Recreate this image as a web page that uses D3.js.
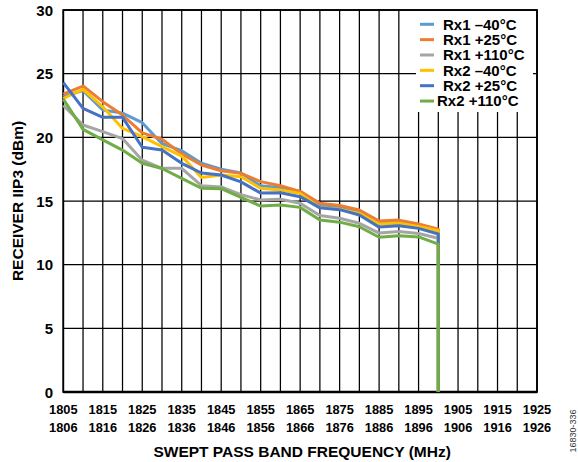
<!DOCTYPE html>
<html>
<head>
<meta charset="utf-8">
<script src="https://cdn.jsdelivr.net/npm/d3@7"></script>
<style>
  html, body { margin: 0; padding: 0; background: #fff; }
  svg { display: block; font-family: "Liberation Sans", Arial, sans-serif; }
</style>
</head>
<body>
<svg id="chart" width="578" height="462"></svg>
<script>
// ---- data ----
const freqs = [1805, 1810, 1815, 1820, 1825, 1830, 1835, 1840, 1845, 1850,
               1855, 1860, 1865, 1870, 1875, 1880, 1885, 1890, 1895, 1900, 1900];
const seriesNames = ["Rx1 \u201340°C", "Rx1 +25°C", "Rx1 +110°C", "Rx2 \u201340°C", "Rx2 +25°C", "Rx2 +110°C"];
const rx1m40  = [23.2, 23.67, 22.15, 21.9, 21.15, 19.5, 18.95, 17.96, 17.49, 17.2, 16.2, 16.05, 15.75, 14.65, 14.5, 14.16, 13.3, 13.3, 13.04, 12.7, 0];
const rx1p25  = [23.4, 24.03, 22.8, 21.75, 20.35, 19.85, 18.7, 17.83, 17.38, 17.17, 16.52, 16.2, 15.76, 14.82, 14.64, 14.29, 13.43, 13.5, 13.19, 12.78, 0];
const rx1p110 = [22.5, 20.97, 20.45, 19.9, 18.2, 17.57, 17.57, 16.2, 16.1, 15.5, 15.08, 15.13, 14.82, 13.86, 13.64, 13.25, 12.48, 12.6, 12.45, 12.07, 0];
const rx2m40  = [23.05, 23.77, 22.4, 20.7, 20.05, 19.27, 18.53, 16.85, 17.05, 16.9, 16.0, 15.86, 15.6, 14.48, 14.35, 14.03, 13.19, 13.25, 13.0, 12.67, 0];
const rx2p25  = [24.3, 22.28, 21.57, 21.57, 19.22, 19.0, 17.96, 17.2, 17.04, 16.5, 15.62, 15.65, 15.34, 14.46, 14.32, 13.9, 12.95, 13.05, 12.85, 12.41, 0];
const rx2p110 = [23.0, 20.63, 19.8, 19.0, 17.96, 17.55, 16.78, 16.0, 15.97, 15.29, 14.6, 14.68, 14.5, 13.5, 13.34, 12.98, 12.15, 12.28, 12.18, 11.62, 0];
const seriesValues = [rx1m40, rx1p25, rx1p110, rx2m40, rx2p25, rx2p110];
const seriesColors = ["#5B9BD5", "#ED7D31", "#A5A5A5", "#FFC000", "#4472C4", "#70AD47"];
const yTicks = [0, 5, 10, 15, 20, 25, 30];
const xTickTop = [1805, 1815, 1825, 1835, 1845, 1855, 1865, 1875, 1885, 1895, 1905, 1915, 1925];
const xTickBottom = [1806, 1816, 1826, 1836, 1846, 1856, 1866, 1876, 1886, 1896, 1906, 1916, 1926];
const xGrid = d3.range(1805, 1926, 5);

// ---- layout ----
const L = 63.3, R = 537, T = 10, B = 392;
const svg = d3.select("#chart");
const x = d3.scaleLinear().domain([1805, 1925]).range([L, R]);
const y = d3.scaleLinear().domain([0, 30]).range([B, T]);

// grid
const grid = svg.append("g");
grid.selectAll("line.v").data(xGrid).join("line")
  .attr("x1", d => x(d)).attr("x2", d => x(d))
  .attr("y1", T).attr("y2", B)
  .attr("stroke", "#000").attr("stroke-width", 1.25);
grid.selectAll("line.h").data(yTicks).join("line")
  .attr("x1", L).attr("x2", R)
  .attr("y1", d => y(d)).attr("y2", d => y(d))
  .attr("stroke", "#000").attr("stroke-width", 1.25);

// border
svg.append("rect").attr("x", L).attr("y", T).attr("width", R - L).attr("height", B - T)
  .attr("fill", "none").attr("stroke", "#000").attr("stroke-width", 1.8);
svg.append("line").attr("x1", L).attr("x2", R).attr("y1", B).attr("y2", B)
  .attr("stroke", "#000").attr("stroke-width", 2.4);

// legend background (hides grid)
const legX = 416, legY = 11;
svg.append("rect").attr("x", legX).attr("y", legY).attr("width", 117).attr("height", 101)
  .attr("fill", "#fff");

// series
const line = d3.line().x((d, i) => x(freqs[i])).y(d => y(d));
svg.append("g").selectAll("path").data(seriesValues).join("path")
  .attr("d", d => line(d))
  .attr("fill", "none")
  .attr("stroke", (d, i) => seriesColors[i])
  .attr("stroke-width", 3)
  .attr("stroke-linejoin", "round");

// y axis labels
svg.append("g").selectAll("text").data(yTicks).join("text")
  .attr("x", 53).attr("y", d => y(d) + 5.5)
  .attr("text-anchor", "end")
  .attr("font-size", "15px").attr("font-weight", "bold")
  .text(d => d);

// x axis labels
const xl = svg.append("g");
xl.selectAll("text.a").data(xTickTop).join("text")
  .attr("x", d => x(d)).attr("y", 413.5)
  .attr("text-anchor", "middle")
  .attr("font-size", "12.8px").attr("font-weight", "bold")
  .text(d => d);
xl.selectAll("text.b").data(xTickBottom).join("text")
  .attr("x", (d, i) => x(xTickTop[i])).attr("y", 431.5)
  .attr("text-anchor", "middle")
  .attr("font-size", "12.8px").attr("font-weight", "bold")
  .text(d => d);

// axis titles
svg.append("text").attr("x", (L + R) / 2 + 2).attr("y", 457)
  .attr("text-anchor", "middle").attr("font-size", "15.5px").attr("font-weight", "bold")
  .text("SWEPT PASS BAND FREQUENCY (MHz)");
svg.append("text").attr("transform", `translate(22.5, ${(T + B) / 2}) rotate(-90)`)
  .attr("text-anchor", "middle").attr("font-size", "15.5px").attr("font-weight", "bold")
  .text("RECEIVER IIP3 (dBm)");

// figure code
svg.append("text").attr("transform", "translate(576, 431) rotate(-90)")
  .attr("text-anchor", "middle").attr("font-size", "9px").attr("fill", "#333")
  .text("16830-336");

// legend
const leg = svg.append("g");
const rowY = i => 24.3 + i * 15.35;
leg.selectAll("line").data(seriesNames).join("line")
  .attr("x1", 420).attr("x2", 434)
  .attr("y1", (d, i) => rowY(i)).attr("y2", (d, i) => rowY(i))
  .attr("stroke", (d, i) => seriesColors[i]).attr("stroke-width", 3);
leg.selectAll("text").data(seriesNames).join("text")
  .attr("x", (d, i) => i === 5 ? 437 : 443)
  .attr("y", (d, i) => rowY(i) + 5.2)
  .attr("font-size", "15px").attr("font-weight", "bold")
  .text(d => d);
</script>
</body>
</html>
